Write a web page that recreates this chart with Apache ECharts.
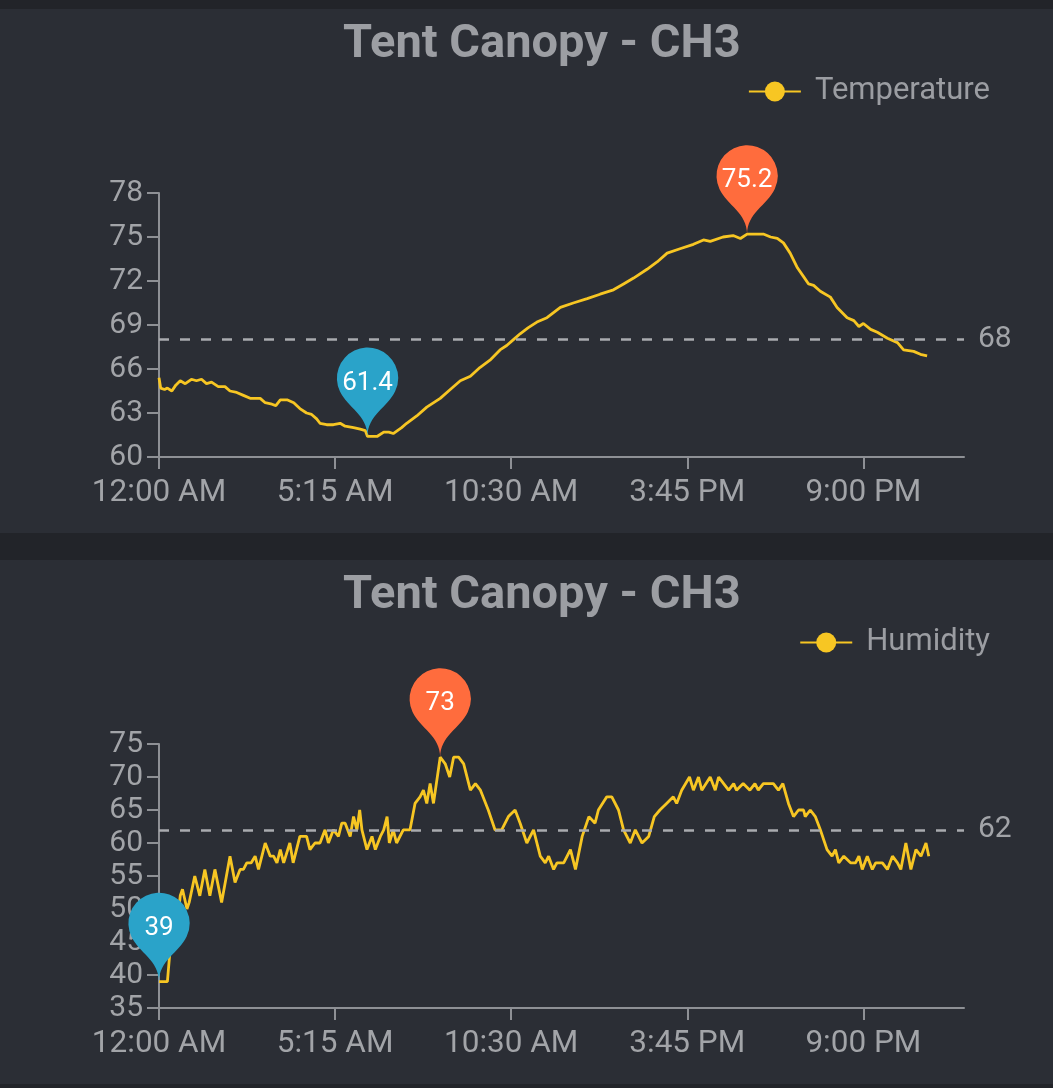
<!DOCTYPE html>
<html>
<head>
<meta charset="utf-8">
<script src="https://cdn.jsdelivr.net/npm/echarts@6/dist/echarts.min.js"></script>
<style>
  html, body { margin: 0; padding: 0; background: #222429; width: 1053px; height: 1088px; overflow: hidden; }
  .panel { position: absolute; left: 0; width: 1053px; height: 524px; background: #2b2e35; }
  #c1 { top: 9px; }
  #c2 { top: 560px; }
</style>
</head>
<body>
<div id="c1" class="panel"></div>
<div id="c2" class="panel"></div>
<script>
// ---- data (time in minutes after midnight) ----
const chartTitle = "Tent Canopy - CH3";
const tickValues = [0, 315, 630, 945, 1260];
const tickLabels = ["12:00 AM", "5:15 AM", "10:30 AM", "3:45 PM", "9:00 PM"];

const tempTimes = [0,3,10,15,23,30,38,47,58,67,76,85,94,106,118,127,139,151,163,181,190,202,209,217,229,241,252,264,273,282,288,300,312,324,333,348,360,369,373,390,402,411,419,434,443,461,479,503,521,539,557,574,592,610,622,634,646,660,676,694,718,741,766,789,813,831,849,873,891,909,932,956,974,986,1009,1027,1040,1052,1070,1081,1094,1106,1117,1129,1142,1153,1162,1171,1183,1201,1213,1231,1243,1252,1260,1273,1285,1303,1321,1332,1350,1362,1374];
const tempValues = [65.4,64.7,64.6,64.7,64.5,64.9,65.2,65.0,65.3,65.2,65.3,65.0,65.1,64.8,64.8,64.5,64.4,64.2,64.0,64.0,63.7,63.6,63.5,63.9,63.9,63.7,63.3,63.0,62.9,62.6,62.3,62.2,62.2,62.3,62.1,62.0,61.9,61.8,61.4,61.4,61.7,61.7,61.6,62.0,62.3,62.8,63.4,64.0,64.6,65.2,65.5,66.1,66.6,67.3,67.6,68.0,68.4,68.8,69.2,69.5,70.2,70.5,70.8,71.1,71.4,71.8,72.2,72.8,73.3,73.9,74.2,74.5,74.8,74.7,75.0,75.1,74.9,75.2,75.2,75.2,75.0,74.9,74.6,73.9,72.9,72.3,71.8,71.7,71.3,70.9,70.2,69.5,69.3,68.9,69.1,68.7,68.5,68.1,67.8,67.3,67.2,67.0,66.9];
const tempRef = 68;

const humTimes = [0,5,10,15,20,26,33,38,42,50,54,64,73,82,91,100,112,127,136,145,151,157,165,172,178,190,199,205,211,217,223,234,240,252,264,270,279,288,297,303,312,321,327,333,342,348,354,359,363,372,381,387,396,402,408,412,419,425,437,449,458,467,473,479,485,491,503,512,520,527,536,545,557,566,575,589,601,613,625,637,646,658,670,682,691,697,706,712,724,736,745,757,769,780,786,801,810,822,831,843,852,864,876,886,896,908,920,926,935,949,956,965,971,986,995,1001,1010,1019,1028,1033,1045,1057,1066,1072,1081,1099,1108,1116,1126,1135,1144,1153,1156,1165,1174,1183,1195,1204,1210,1216,1225,1237,1246,1252,1258,1267,1276,1282,1294,1303,1312,1321,1327,1336,1345,1354,1363,1372,1377];
const humValues = [39,39,39,39,44,46,48,52,53,50,51,55,52,56,52,56,51,58,54,56,56,57,57,58,56,60,58,58,57,59,57,60,57,61,61,59,60,60,62,60,62,61,63,63,61,64,62,65,62,59,61,59,61,62,64,60,62,60,62,62,66,67,68,66,69,66,73,72,70,73,73,72,68,69,68,65,62,62,64,65,63,60,62,58,57,58,56,57,57,59,56,61,64,63,65,67,67,65,62,60,62,60,61,64,65,66,67,66,68,70,68,70,68,70,68,70,69,68,69,68,69,68,69,68,69,69,68,69,66,64,65,65,64,65,64,62,59,58,59,57,58,57,57,58,56,58,56,57,57,56,58,57,56,60,56,59,58,60,58];
const humRef = 62;

const gray = '#a2a4a8';
const axisGray = '#8e9095';
const yellow = '#f7c623';
const font = 'Roboto';

function buildOption(name, times, values, refValue, yMin, yMax, yStep) {
  return {
    backgroundColor: 'transparent',
    animation: false,
    textStyle: { fontFamily: font },
    title: {
      text: chartTitle,
      left: 338, top: 8,
      textStyle: { fontFamily: font, fontSize: 47, fontWeight: 'bold', color: '#9c9ea3' }
    },
    legend: {
      data: [name],
      right: 58, top: 62,
      itemWidth: 52, itemHeight: 25,
      textStyle: { fontFamily: font, fontSize: 31, color: '#9b9da2', padding: [0, 0, 0, 9] }
    },
    grid: { left: 159, right: 89, top: 184, height: 264 },
    xAxis: {
      type: 'value', min: 0, max: 1440,
      axisLine: { lineStyle: { color: axisGray, width: 2 } },
      axisTick: { show: true, length: 12, lineStyle: { color: axisGray, width: 2 }, customValues: tickValues },
      axisLabel: {
        customValues: tickValues,
        margin: 20, fontFamily: font, fontSize: 31.5, color: gray,
        formatter: function (v) { const i = tickValues.indexOf(v); return i >= 0 ? tickLabels[i] : ''; }
      },
      splitLine: { show: false }
    },
    yAxis: {
      type: 'value', min: yMin, max: yMax, interval: yStep,
      axisLine: { show: true, lineStyle: { color: axisGray, width: 2 } },
      axisTick: { show: true, length: 12, lineStyle: { color: axisGray, width: 2 } },
      axisLabel: { margin: 16, fontFamily: font, fontSize: 30, color: gray },
      splitLine: { show: false }
    },
    series: [{
      name: name,
      type: 'line',
      data: times.map((t, i) => [t, values[i]]),
      showSymbol: false,
      symbol: 'circle',
      lineStyle: { color: yellow, width: 2.8 },
      itemStyle: { color: yellow },
      markPoint: {
        symbol: 'pin',
        symbolSize: 102,
        label: { color: '#ffffff', fontSize: 26, fontFamily: font },
        data: [
          { type: 'max', itemStyle: { color: '#ff6c3d' } },
          { type: 'min', itemStyle: { color: '#2aa3c9' } }
        ]
      },
      markLine: {
        symbol: ['none', 'none'],
        silent: true,
        lineStyle: { color: '#a9abaf', type: [10, 11], width: 2.5 },
        label: { position: 'end', color: gray, fontSize: 30, fontFamily: font, distance: 14 },
        data: [{ yAxis: refValue }]
      }
    }]
  };
}

const c1 = echarts.init(document.getElementById('c1'), null, { renderer: 'canvas' });
c1.setOption(buildOption('Temperature', tempTimes, tempValues, tempRef, 60, 78, 3));
const c2 = echarts.init(document.getElementById('c2'), null, { renderer: 'canvas' });
c2.setOption(buildOption('Humidity', humTimes, humValues, humRef, 35, 75, 5));
</script>
</body>
</html>
